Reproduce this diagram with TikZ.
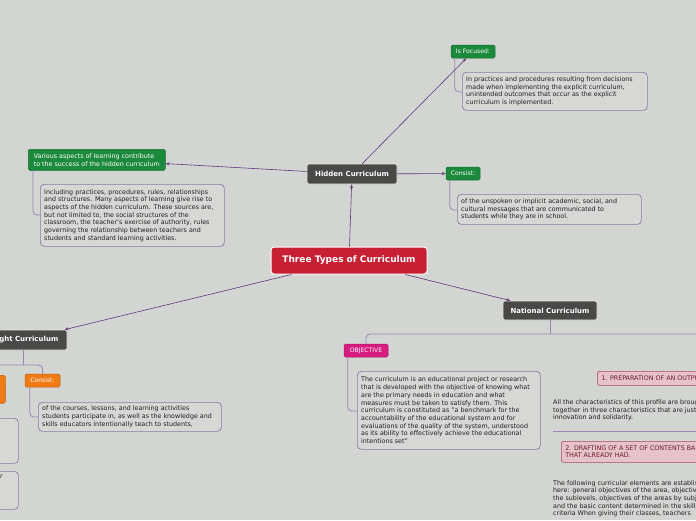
\documentclass[tikz,border=0pt]{standalone}
\usepackage{fontspec}
\setmainfont{DejaVu Sans}
\usetikzlibrary{arrows.meta}
\definecolor{bgc}{HTML}{D3D5D2}
\definecolor{notefill}{HTML}{D7D8D6}
\definecolor{notec}{HTML}{8C7AA3}
\definecolor{treec}{HTML}{9A88B2}
\definecolor{connc}{HTML}{5E3A78}
\definecolor{darkc}{HTML}{4A4947}
\definecolor{redc}{HTML}{C71F33}
\definecolor{greenc}{HTML}{1C8A3C}
\definecolor{orangec}{HTML}{F07A14}
\definecolor{magc}{HTML}{D81B7F}
\definecolor{pinkfill}{HTML}{E6C3CA}
\definecolor{pinkc}{HTML}{A8485E}
\definecolor{pinktext}{HTML}{6B1B2A}
\newcommand{\notefont}{\fontsize{6.35}{7.7}\selectfont}
\tikzset{
  conn/.style={draw=connc, line width=0.6pt, -{Stealth[length=4pt,width=3pt]}},
  tree/.style={draw=treec, line width=0.8pt, rounded corners=4pt},
  notebox/.style={draw=notec, fill=notefill, line width=0.7pt, rounded corners=4pt,
    anchor=north west, inner sep=0pt},
  notetext/.style={font=\notefont, text=black!88, align=left, anchor=west, inner sep=0pt},
  topic/.style={fill=darkc, draw=white!90!black, line width=0.7pt, rounded corners=2pt, text=white,
    font=\bfseries\fontsize{7}{8}\selectfont, inner sep=0pt},
  tag/.style={draw=#1!80!black, fill=#1, line width=0.5pt, rounded corners=1.5pt, text=white,
    font=\fontsize{6.1}{7}\selectfont, inner sep=0pt},
  pinkbox/.style={draw=pinkc, fill=pinkfill, line width=0.6pt, rounded corners=2.5pt, text=pinktext,
    font=\fontsize{6.35}{7.6}\selectfont, align=left, anchor=north west, inner xsep=4pt, inner ysep=1.5pt},
  plain/.style={font=\notefont, text=black!88, align=left, anchor=north west, inner sep=0pt},
}
\begin{document}
\begin{tikzpicture}[x=1pt,y=-1pt]
\useasboundingbox (0,0) rectangle (696,520);
\clip (0,0) rectangle (696,520);
\fill[bgc] (0,0) rectangle (696,520);

% central topic
\node[fill=redc, draw=white, line width=1pt, rounded corners=3pt, text=white,
  font=\bfseries\fontsize{9}{10}\selectfont, minimum width=156, minimum height=27, inner sep=0pt]
  (root) at (349,260.5) {Three Types of Curriculum};

% main topics
\node[topic, minimum width=90, minimum height=20] (hidden) at (352,174) {Hidden Curriculum};
\node[topic, minimum width=90, minimum height=20] (taught) at (22,340) {Taught Curriculum};
\node[topic, minimum width=94, minimum height=19] (national) at (550,310.5) {National Curriculum};

% hidden curriculum branch
\node[tag=greenc, minimum width=44, minimum height=13] (focused) at (473,51.5) {Is Focused:};
\node[notebox, minimum width=185, minimum height=38] (focustext) at (462,72) {};
\node[notetext] (focustextT) at ([xshift=4pt]focustext.west)
 {In practices and procedures resulting from decisions\\
  made when implementing the explicit curriculum,\\
  unintended outcomes that occur as the explicit\\
  curriculum is implemented.};

\node[tag=greenc, anchor=north west, align=left, minimum width=137, minimum height=21,
  font=\fontsize{6.35}{7.8}\selectfont] (various) at (28,149)
 {Various aspects of learning contribute\\ to the success of the hidden curriculum};
\node[notebox, minimum width=184, minimum height=62] (varioustext) at (40,184) {};
\node[notetext] (varioustextT) at ([xshift=4pt]varioustext.west)
 {Including practices, procedures, rules, relationships\\
  and structures. Many aspects of learning give rise to\\
  aspects of the hidden curriculum. These sources are,\\
  but not limited to, the social structures of the\\
  classroom, the teacher's exercise of authority, rules\\
  governing the relationship between teachers and\\
  students and standard learning activities.};

\node[tag=greenc, minimum width=34, minimum height=13] (consist1) at (463,173.5) {Consist:};
\node[notebox, minimum width=184, minimum height=30] (consisttext) at (457,194) {};
\node[notetext] (consisttextT) at ([xshift=4pt]consisttext.west)
 {of the unspoken or implicit academic, social, and\\
  cultural messages that are communicated to\\
  students while they are in school.};

% taught curriculum branch
\node[tag=orangec, anchor=north west, minimum width=45, minimum height=28] (orangeleft) at (-40,375) {};
\node[tag=orangec, minimum width=35, minimum height=13] (consist2) at (42.5,380.5) {Consist:};
\node[notebox, minimum width=183, minimum height=29] (consist2text) at (38,402) {};
\node[notetext] (consist2textT) at ([xshift=4pt]consist2text.west)
 {of the courses, lessons, and learning activities\\
  students participate in, as well as the knowledge and\\
  skills educators intentionally teach to students,};
\node[notebox, minimum width=118, minimum height=45] (leftnote1) at (-100,418) {};
\node[notebox, minimum width=118, minimum height=38] (leftnote2) at (-100,471) {};
\node[plain, anchor=north east] (leftr) at (3,475) {r};

% national curriculum branch
\node[tag=magc, minimum width=44, minimum height=13] (objective) at (366,350.5) {OBJECTIVE};
\node[notebox, minimum width=183, minimum height=78] (objtext) at (357,371) {};
\node[notetext] (objtextT) at ([xshift=4pt]objtext.west)
 {The curriculum is an educational project or research\\
  that is developed with the objective of knowing what\\
  are the primary needs in education and what\\
  measures must be taken to satisfy them. This\\
  curriculum is constituted as "a benchmark for the\\
  accountability of the educational system and for\\
  evaluations of the quality of the system, understood\\
  as its ability to effectively achieve the educational\\
  intentions set"};
\node[pinkbox, minimum height=14] (pink1) at (597,371) {1. PREPARATION OF AN OUTPUT PROFILE};
\node[plain] (text1) at (553,399.5)
 {All the characteristics of this profile are brought\\
  together in three characteristics that are just\\
  innovation and solidarity.};
\coordinate (sepL) at (553,431);
\coordinate (sepR) at (700,431);
\draw[treec, line width=0.7pt] (sepL) -- (sepR);
\node[pinkbox, minimum height=21] (pink2) at (561,441)
 {2. DRAFTING OF A SET OF CONTENTS BASED ON\\ THAT ALREADY HAD.};
\node[plain] (text2) at (553,480)
 {The following curricular elements are established\\
  here: general objectives of the area, objectives of\\
  the sublevels, objectives of the areas by subject\\
  and the basic content determined in the skills\\
  criteria When giving their classes, teachers};

% tree connectors
\draw[tree] (focused.south west) ++(4,0) |- (focustext.west |- 0,92);
\draw[tree] (various.south west) ++(5,0) |- (varioustext.west |- 0,215);
\draw[tree] (consist1.south west) ++(4,0) |- (consisttext.west |- 0,210);
\draw[tree] (consist2.south west) ++(5,0) |- (consist2text.west |- 0,417);
\draw[tree] (objective.south west) ++(4,0) |- (objtext.west |- 0,411);
\draw[tree] (taught.south) ++(1,0) -- ++(0,15);
\coordinate (tl) at (-10,365);
\draw[tree] (tl) -| (consist2.north);
\draw[tree] (national.south) -- ++(0,14);
\coordinate (nr) at (700,334);
\draw[tree] (nr) -| (objective.north);

% arrows
\draw[conn] (root) -- (hidden);
\draw[conn] (hidden) -- (focused);
\draw[conn] (hidden) -- (various);
\draw[conn] (hidden) -- (consist1);
\draw[conn] (root) -- (taught);
\draw[conn] (root) -- (national);
\end{tikzpicture}
\end{document}
